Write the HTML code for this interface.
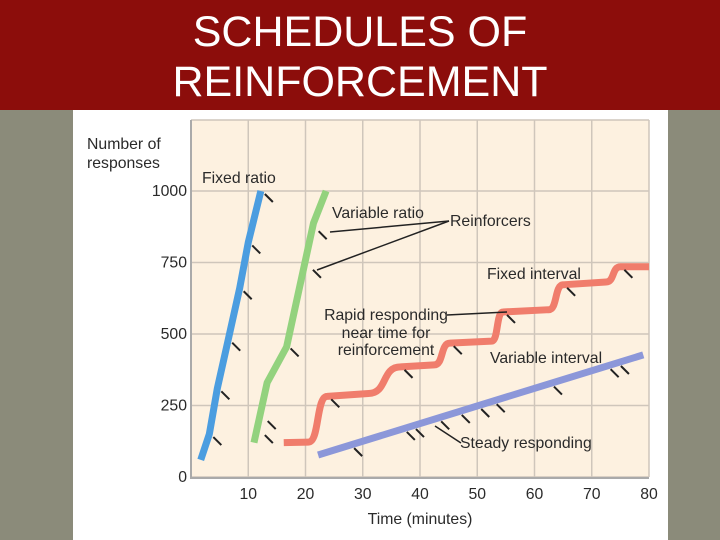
<!DOCTYPE html>
<html><head><meta charset="utf-8"><style>
body{margin:0;width:720px;height:540px;overflow:hidden;background:#8b8b7a;font-family:"Liberation Sans",sans-serif}
#hdr{position:absolute;left:0;top:0;width:720px;height:110px;background:#8c0d0b}
#title{position:absolute;left:0;top:7px;width:720px;text-align:center;color:#fff;font-size:43px;line-height:50px}
#panel{position:absolute;left:73px;top:110px;width:595px;height:430px;background:#fff}
svg{position:absolute;left:0;top:0}
svg text{font-family:"Liberation Sans",sans-serif;fill:#2a2a2a;font-size:15.8px}
</style></head><body>
<div id="hdr"><div id="title">SCHEDULES OF<br>REINFORCEMENT</div></div>
<div id="panel"></div>
<svg id="chart" width="720" height="540"></svg>
<script>
const xTicks=[10,20,30,40,50,60,70,80];
const yTicks=[0,250,500,750,1000];
const fixedRatio=[[1.7,60],[3.2,150],[4.6,310],[6.5,480],[8.5,660],[10,820],[12.2,1000]];
const fixedRatioReinf=[[3.2,150],[4.6,310],[6.5,480],[8.5,660],[10,820],[12.2,1000]];
const variableRatio=[[11,120],[13.3,330],[16.7,455],[21.4,888],[23.6,1000]];
const variableRatioReinf=[[12.2,157],[12.7,206],[16.7,460],[20.6,735],[21.6,870]];
const fixedIntervalStart=[16.2,120];
const fixedIntervalSteps=[[20.5,122,23.8,282],[31,292,36.6,385],[42.5,392,45.2,468],[52.5,475,54.5,577],[62.5,585,65,672],[72.5,682,75,735]];
const fixedIntervalEnd=80;
const variableInterval=[[22.2,77],[79,427]];
const variableIntervalReinfX=[27.8,37,38.6,43,46.6,50,52.7,62.7,72.6,74.4];
const X=v=>191+v*5.725, Y=v=>477-v*0.286;
const svg=document.getElementById('chart');const NS='http://www.w3.org/2000/svg';
function mk(t,a,p){const e=document.createElementNS(NS,t);for(const k in a)e.setAttribute(k,a[k]);(p||svg).appendChild(e);return e;}
let e;
e=mk('rect',{x:191,y:120,width:458,height:357,fill:'#fdf1e0'});


xTicks.forEach(t=>{e=mk('line',{x1:X(t),x2:X(t),y1:120,y2:477,stroke:'#cfc6bb','stroke-width':1.5});


e=mk('text',{x:X(t),y:499,'text-anchor':'middle'});e.textContent=t;

});
yTicks.forEach(t=>{e=mk('line',{x1:191,x2:649,y1:Y(t),y2:Y(t),stroke:'#cfc6bb','stroke-width':1.5});


e=mk('text',{x:187,y:Y(t)+5,'text-anchor':'end'});e.textContent=t;

});
mk('line',{x1:191,x2:649,y1:120,y2:120,stroke:'#cfc6bb','stroke-width':1.5});
mk('line',{x1:191,x2:191,y1:120,y2:479,stroke:'#aaa','stroke-width':2});
mk('line',{x1:191,x2:649,y1:478,y2:478,stroke:'#aaa','stroke-width':2});
function ticks(arr,name){arr.forEach(p=>{e=mk('line',{x1:X(p[0])+4,y1:Y(p[1])+3,x2:X(p[0])+12,y2:Y(p[1])+11,stroke:'#222','stroke-width':2});

});}
function poly(arr,col,name){e=mk('polyline',{points:arr.map(p=>X(p[0])+','+Y(p[1])).join(' '),fill:'none',stroke:col,'stroke-width':7,'stroke-linejoin':'round'});

}
poly(fixedRatio,'#4b9de0','fixed-ratio-line');ticks(fixedRatioReinf,'fixed-ratio-reinforcer');
poly(variableRatio,'#93d27e','variable-ratio-line');ticks(variableRatioReinf,'variable-ratio-reinforcer');
let d='M'+X(fixedIntervalStart[0])+' '+Y(fixedIntervalStart[1]);
fixedIntervalSteps.forEach(s=>{const x0=X(s[0]),y0=Y(s[1]),x1=X(s[2]),y1=Y(s[3]);const dx=x1-x0;
d+=' L'+x0+' '+y0+' C'+(x0+dx*0.6)+' '+y0+' '+(x1-dx*0.6)+' '+y1+' '+x1+' '+y1;});
d+=' L'+X(fixedIntervalEnd)+' '+Y(fixedIntervalSteps[fixedIntervalSteps.length-1][3]);
e=mk('path',{d:d,fill:'none',stroke:'#f07d6c','stroke-width':7});


ticks(fixedIntervalSteps.map(s=>[s[2],s[3]]),'fixed-interval-reinforcer');
poly(variableInterval,'#8c97d9','variable-interval-line');
const vi0=variableInterval[0],vi1=variableInterval[1];
ticks(variableIntervalReinfX.map(x=>[x,vi0[1]+(x-vi0[0])*(vi1[1]-vi0[1])/(vi1[0]-vi0[0])]),'variable-interval-reinforcer');
[[449,221,330,232],[449,221,317,270],[447,315,507,312],[435,426,461,443]].forEach(l=>{e=mk('line',{x1:l[0],y1:l[1],x2:l[2],y2:l[3],stroke:'#222','stroke-width':1.5});

});
const labels=[['Number of',87,149,'start','y-axis-title'],['responses',87,168,'start','y-axis-title'],['Fixed ratio',202,183,'start','fixed-ratio-label'],['Variable ratio',332,218,'start','variable-ratio-label'],['Reinforcers',450,226,'start','reinforcers-label'],['Fixed interval',487,279,'start','fixed-interval-label'],['Rapid responding',386,320,'middle','rapid-responding-label'],['near time for',386,338,'middle','rapid-responding-label'],['reinforcement',386,355,'middle','rapid-responding-label'],['Variable interval',490,363,'start','variable-interval-label'],['Steady responding',460,448,'start','steady-responding-label'],['Time (minutes)',420,524,'middle','x-axis-title']];
labels.forEach(l=>{e=mk('text',{x:l[1],y:l[2],'text-anchor':l[3]});e.textContent=l[0];

});
</script>
</body></html>
